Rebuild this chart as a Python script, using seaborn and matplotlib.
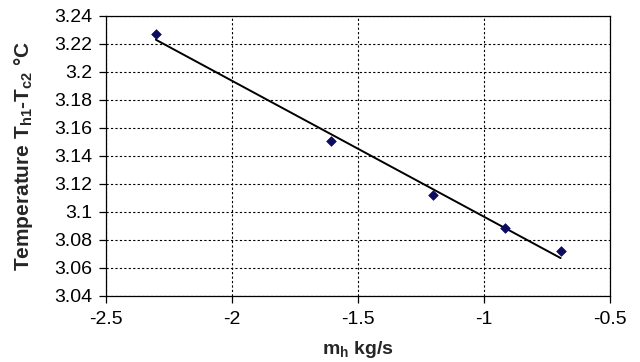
import numpy as np
import pandas as pd
import seaborn as sns
import matplotlib

matplotlib.use("Agg")
import matplotlib.pyplot as plt

# values
mass_flow = [-2.302, -1.608, -1.204, -0.917, -0.696]
temp_diff = [3.2274, 3.1505, 3.1119, 3.0886, 3.0724]
x_ticks = [-2.5, -2.0, -1.5, -1.0, -0.5]
x_tick_labels = ["-2.5", "-2", "-1.5", "-1", "-0.5"]
y_ticks = [3.04, 3.06, 3.08, 3.10, 3.12, 3.14, 3.16, 3.18, 3.20, 3.22, 3.24]
y_tick_labels = ["3.04", "3.06", "3.08", "3.1", "3.12", "3.14",
                 "3.16", "3.18", "3.2", "3.22", "3.24"]

sns.set_style("ticks")
plt.rcParams["font.family"] = ["Liberation Sans", "DejaVu Sans"]
plt.rcParams["mathtext.fontset"] = "custom"
plt.rcParams["mathtext.rm"] = "Liberation Sans:bold"
plt.rcParams["mathtext.it"] = "Liberation Sans:bold"
plt.rcParams["mathtext.bf"] = "Liberation Sans:bold"

df = pd.DataFrame({"m": mass_flow, "dt": temp_diff})

fig = plt.figure(figsize=(6.4, 3.62), dpi=100)
ax = fig.add_axes([106 / 640, 1 - 296 / 362, 504 / 640, 280 / 362])

sns.regplot(
    data=df, x="m", y="dt", ax=ax, ci=None, truncate=True, marker="D",
    scatter_kws={"s": 24, "color": "#0b0b60", "edgecolors": "#0b0b60",
                 "linewidths": 0.5, "alpha": 1, "zorder": 3},
    line_kws={"color": "black", "linewidth": 1.4, "zorder": 2},
)

ax.set_xlim(-2.5, -0.5)
ax.set_ylim(3.04, 3.24)
ax.set_xticks(x_ticks)
ax.set_xticklabels(x_tick_labels)
ax.set_yticks(y_ticks)
ax.set_yticklabels(y_tick_labels)
ax.tick_params(labelsize=14, length=5, width=0.9, colors="black")
ax.tick_params(axis="y", pad=5)
ax.tick_params(axis="x", pad=6)

ax.grid(True, color="black", linestyle=(0, (2, 2)), linewidth=0.8)
ax.set_axisbelow(True)
for side in ["top", "right", "left", "bottom"]:
    ax.spines[side].set_visible(True)
    ax.spines[side].set_color("black")
    ax.spines[side].set_linewidth(0.9)

ax.set_xlabel(r"m$_{h}$ kg/s", fontsize=14, fontweight="bold", labelpad=8)
ax.set_ylabel(r"Temperature T$_{h1}$-T$_{c2}$ °C", fontsize=15,
              fontweight="bold")
ax.yaxis.set_label_coords(-0.14, 0.5)

fig.savefig("out.png", dpi=100)
plt.close(fig)
